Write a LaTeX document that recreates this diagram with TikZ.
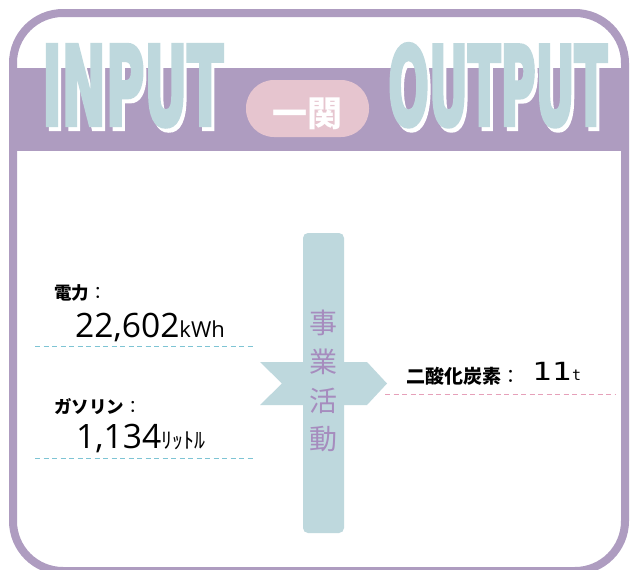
\documentclass[tikz,border=0pt]{standalone}
\usepackage{fontspec}
\usepackage{graphicx}
\setmainfont{Open Sans}
\newfontfamily\jp{Noto Sans CJK JP}
\newfontfamily\heavy{DejaVu Sans Condensed Bold}[FakeBold=4]
\newfontfamily\monof{DejaVu Sans Mono}
\definecolor{framepurple}{RGB}{174,156,192}
\definecolor{lblue}{RGB}{190,216,221}
\definecolor{pillpink}{RGB}{230,197,207}
\definecolor{txtpurple}{RGB}{166,140,190}
\definecolor{dashblue}{RGB}{126,196,212}
\definecolor{dashpink}{RGB}{230,160,185}
\newcommand{\fs}[1]{\fontsize{#1pt}{#1pt}\selectfont}
\newcommand{\shadowword}[3]{%
  \makebox[0pt][l]{\hspace{3pt}\raisebox{-4pt}{\textcolor{white}{\resizebox{#1}{#2}{\heavy #3}}}}%
  \textcolor{lblue}{\resizebox{#1}{#2}{\heavy #3}}}
\tikzset{
  bigword/.style={inner sep=0pt, anchor=base west},
  label jp/.style={inner sep=0pt, anchor=base west, font=\jp\bfseries\fs{17.5}},
  vchar/.style={inner sep=0pt, text=txtpurple, font=\jp\fs{28}},
  dashline/.style={line width=1pt, dash pattern=on 5pt off 3.5pt},
}
\begin{document}
\begin{tikzpicture}[x=1pt, y=-1pt]
\useasboundingbox (0,0) rectangle (633,570);
\clip (0,0) rectangle (633,570);
\fill[white] (0,0) rectangle (633,570);
% band
\fill[framepurple] (13,68) rectangle (625,151);
% big words with white shadow
\node[bigword] (inp) at (42,125) {\shadowword{181pt}{80pt}{INPUT}};
\node[bigword] (outp) at (388,125) {\shadowword{219pt}{81pt}{OUTPUT}};
% pill
\node[fill=pillpink, rounded corners=28pt, minimum width=123pt, minimum height=57pt, inner sep=0pt] (pill) at (307.5,108.5) {};
\node[inner sep=0pt, text=white, font=\jp\bfseries\fs{35}] (ichi) at (307,114) {一関};
% frame
\draw[framepurple, line width=8pt, rounded corners=50pt] (13,13) rectangle (625,571);
% central bar and chevron
\node[fill=lblue, rounded corners=5pt, minimum width=41pt, minimum height=300pt, inner sep=0pt] (bar) at (323.5,383) {};
\fill[lblue] (260,362) -- (367,362) -- (387,383.5) -- (367,405) -- (260,405) -- (282,383.5) -- cycle;
\node[vchar] (c1) at (323,323) {事};
\node[vchar] (c2) at (323,362) {業};
\node[vchar] (c3) at (323,401) {活};
\node[vchar] (c4) at (323,439) {動};
% input side
\node[label jp] (elec) at (54,299) {電力\textmd{：}};
\node[inner sep=0pt, anchor=base west] (elecv) at (75,337) {\fs{33.6}22,602\fs{22}kWh};
\coordinate (d1a) at (35,346);
\coordinate (d1b) at (253,346);
\draw[dashline, dashblue] (d1a) -- (d1b);
\node[label jp] (gas) at (54,413) {ガソリン\textmd{：}};
\node[inner sep=0pt, anchor=base west] (gasv) at (76,448) {\fs{33.6}1,134{\jp\fs{22}ﾘｯﾄﾙ}};
\coordinate (d2a) at (35,458);
\coordinate (d2b) at (253,458);
\draw[dashline, dashblue] (d2a) -- (d2b);
% output side
\node[inner sep=0pt, anchor=base west, font=\jp\bfseries\fs{19}] (co2) at (406,383.5) {二酸化炭素\textmd{：}};
\node[inner sep=0pt, anchor=base west, font=\monof\fs{25}] (co2v) at (532,380.5) {\scalebox{1.3}[1]{11}};
\node[inner sep=0pt, anchor=base west, font=\monof\fs{15}] (co2u) at (572,380.5) {t};
\coordinate (d3a) at (385,394);
\coordinate (d3b) at (615,394);
\draw[dashline, dashpink] (d3a) -- (d3b);
\end{tikzpicture}
\end{document}
